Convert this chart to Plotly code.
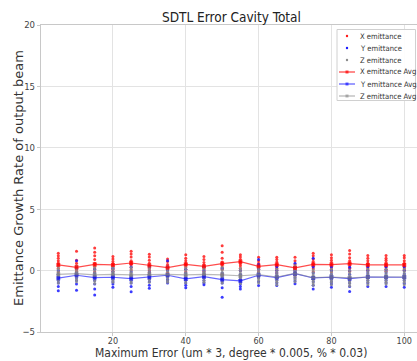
import plotly.graph_objects as go

x_vals = [5, 10, 15, 20, 25, 30, 35, 40, 45, 50, 55, 60, 65, 70, 75, 80, 85, 90, 95, 100]

x_emit = [
    [1.41, 1.2, 1.0, 0.8, 0.62, 0.46, 0.2, -0.1],
    [1.57, 0.85, 0.6, 0.4, 0.3, 0.1, -0.05, -0.3],
    [1.84, 1.5, 1.2, 0.9, 0.6, 0.35, 0.15, -0.1],
    [1.14, 0.95, 0.75, 0.55, 0.4, 0.25, 0.1, -0.05],
    [1.57, 1.35, 1.1, 0.8, 0.6, 0.45, 0.25, 0.05],
    [1.33, 1.1, 0.85, 0.6, 0.4, 0.2, 0.0, -0.15],
    [0.95, 0.75, 0.5, 0.35, 0.2, 0.05, -0.2, -0.35],
    [1.3, 1.0, 0.8, 0.6, 0.45, 0.3, 0.1, -0.1],
    [1.14, 0.9, 0.65, 0.45, 0.3, 0.15, -0.05, -0.3],
    [2.03, 1.5, 1.0, 0.7, 0.5, 0.3, 0.1, -0.3],
    [1.3, 1.1, 0.9, 0.7, 0.55, 0.4, 0.2, 0.0],
    [1.08, 0.8, 0.6, 0.4, 0.25, 0.1, -0.1, -0.5],
    [1.08, 0.9, 0.7, 0.5, 0.35, 0.2, 0.0, -0.2],
    [1.08, 0.8, 0.5, 0.3, 0.15, 0.0, -0.2, -0.4],
    [1.41, 1.2, 0.95, 0.75, 0.55, 0.35, 0.15, -0.1],
    [1.3, 1.05, 0.85, 0.65, 0.45, 0.3, 0.1, -0.1],
    [1.63, 1.35, 1.05, 0.8, 0.6, 0.4, 0.2, -0.05],
    [1.22, 1.0, 0.8, 0.6, 0.45, 0.3, 0.15, 0.0],
    [1.22, 1.0, 0.85, 0.65, 0.45, 0.3, 0.1, -0.05],
    [1.22, 1.05, 0.8, 0.6, 0.45, 0.3, 0.15, 0.0],
]

y_emit = [
    [0.0, -0.3, -0.5, -0.6, -0.8, -1.0, -1.3, -1.65],
    [0.8, 0.2, -0.2, -0.4, -0.6, -0.8, -1.1, -1.6],
    [0.1, -0.2, -0.4, -0.6, -0.8, -1.1, -1.5, -1.98],
    [0.2, -0.1, -0.3, -0.5, -0.7, -0.9, -1.1, -1.35],
    [0.3, -0.1, -0.4, -0.6, -0.8, -1.0, -1.3, -1.73],
    [0.3, -0.1, -0.3, -0.5, -0.7, -0.9, -1.2, -1.43],
    [0.81, 0.3, 0.0, -0.3, -0.5, -0.7, -0.85, -1.0],
    [0.1, -0.2, -0.4, -0.6, -0.8, -1.0, -1.2, -1.4],
    [0.3, 0.0, -0.2, -0.4, -0.6, -0.8, -1.0, -1.16],
    [0.2, -0.2, -0.4, -0.6, -0.8, -1.0, -1.4, -2.17],
    [0.0, -0.3, -0.5, -0.7, -0.9, -1.1, -1.3, -1.49],
    [0.9, 0.5, 0.1, -0.2, -0.4, -0.6, -0.9, -1.22],
    [0.3, 0.0, -0.2, -0.4, -0.6, -0.8, -1.0, -1.22],
    [0.6, 0.3, 0.0, -0.2, -0.4, -0.6, -0.85, -1.08],
    [1.0, 0.3, -0.2, -0.5, -0.7, -0.9, -1.2, -1.49],
    [0.3, 0.0, -0.3, -0.5, -0.7, -0.9, -1.1, -1.35],
    [0.27, 0.0, -0.3, -0.6, -0.8, -1.0, -1.3, -1.71],
    [0.3, 0.0, -0.2, -0.4, -0.6, -0.8, -1.0, -1.3],
    [0.3, 0.05, -0.2, -0.45, -0.6, -0.8, -1.0, -1.3],
    [0.3, 0.0, -0.25, -0.4, -0.6, -0.8, -1.05, -1.35],
]

z_emit = [
    [0.3, 0.1, -0.1, -0.3, -0.4, -0.6, -0.8, -1.0],
    [0.35, 0.15, -0.05, -0.25, -0.4, -0.55, -0.75, -0.9],
    [0.25, 0.05, -0.15, -0.35, -0.5, -0.65, -0.85, -1.05],
    [0.3, 0.1, -0.1, -0.3, -0.45, -0.6, -0.8, -0.95],
    [0.25, 0.05, -0.15, -0.35, -0.5, -0.65, -0.85, -1.0],
    [0.3, 0.1, -0.1, -0.3, -0.45, -0.6, -0.75, -0.95],
    [0.3, 0.15, -0.05, -0.3, -0.45, -0.6, -0.8, -0.95],
    [0.25, 0.05, -0.15, -0.35, -0.5, -0.65, -0.8, -1.0],
    [0.3, 0.1, -0.1, -0.3, -0.45, -0.6, -0.8, -0.95],
    [0.25, 0.05, -0.15, -0.35, -0.5, -0.65, -0.85, -1.0],
    [0.2, 0.0, -0.2, -0.4, -0.55, -0.7, -0.9, -1.05],
    [0.3, 0.1, -0.1, -0.35, -0.5, -0.65, -0.8, -1.0],
    [0.1, -0.1, -0.3, -0.5, -0.65, -0.8, -0.95, -1.15],
    [0.4, 0.2, 0.0, -0.25, -0.4, -0.55, -0.7, -0.9],
    [0.05, -0.15, -0.35, -0.55, -0.7, -0.85, -1.0, -1.2],
    [0.1, -0.1, -0.3, -0.5, -0.65, -0.8, -0.95, -1.15],
    [0.0, -0.2, -0.4, -0.6, -0.75, -0.9, -1.05, -1.25],
    [0.1, -0.1, -0.3, -0.5, -0.65, -0.8, -0.95, -1.15],
    [0.1, -0.1, -0.3, -0.5, -0.65, -0.8, -0.95, -1.1],
    [0.1, -0.1, -0.3, -0.5, -0.65, -0.8, -0.95, -1.15],
]

x_avg = [0.46, 0.27, 0.51, 0.46, 0.62, 0.41, 0.24, 0.51, 0.35, 0.57,
         0.73, 0.35, 0.49, 0.22, 0.51, 0.49, 0.57, 0.46, 0.46, 0.46]
y_avg = [-0.62, -0.38, -0.57, -0.54, -0.65, -0.54, -0.38, -0.68, -0.49, -0.73,
         -0.84, -0.38, -0.57, -0.24, -0.60, -0.54, -0.65, -0.52, -0.54, -0.54]
z_avg = [-0.30, -0.25, -0.35, -0.30, -0.35, -0.30, -0.30, -0.35, -0.30, -0.35,
         -0.42, -0.32, -0.52, -0.22, -0.58, -0.52, -0.60, -0.52, -0.52, -0.52]

x_ticks = [20, 40, 60, 80, 100]
y_ticks = [-5, 0, 5, 10, 15, 20]

title_text = "SDTL Error Cavity Total"
x_label = "Maximum Error (um * 3, degree * 0.005, % * 0.03)"
y_label = "Emittance Growth Rate of output beam"

legend_names = ["X emittance", "Y emittance", "Z emittance",
                "X emittance Avg", "Y emittance Avg", "Z emittance Avg"]

COND = "DejaVu Sans Condensed, DejaVu Sans, sans-serif"
REG = "DejaVu Sans, sans-serif"

RED, BLUE, GRAY = "#ff1a1a", "#1a1aff", "#8c8c8c"
RED_L, BLUE_L, GRAY_L = "rgba(255,0,0,0.7)", "rgba(0,0,255,0.6)", "rgba(128,128,128,0.55)"

W, H = 417, 361
L, R, T, B = 41, 0, 25, 29


def px(xp):
    return (xp - L) / (W - L - R)


def py(yp):
    return (H - B - yp) / (H - T - B)


def flat(groups):
    xs, ys = [], []
    for xv, g in zip(x_vals, groups):
        for v in g:
            xs.append(xv)
            ys.append(v)
    return xs, ys


fig = go.Figure()

scatter_specs = [(legend_names[0], x_emit, RED),
                 (legend_names[1], y_emit, BLUE),
                 (legend_names[2], z_emit, GRAY)]
for name, groups, col in scatter_specs:
    xs, ys = flat(groups)
    fig.add_trace(go.Scatter(x=xs, y=ys, mode="markers", name=name,
                             marker=dict(color=col, size=3, symbol="circle",
                                         opacity=0.85, line=dict(width=0))))

avg_specs = [(legend_names[3], x_avg, RED_L),
             (legend_names[4], y_avg, BLUE_L),
             (legend_names[5], z_avg, GRAY_L)]
for name, vals, col in avg_specs:
    fig.add_trace(go.Scatter(x=x_vals, y=vals, mode="lines+markers", name=name,
                             line=dict(color=col, width=1.2),
                             marker=dict(color=col, size=4, symbol="square")))

# Compact legend box in the upper right (matplotlib style)
shapes = [dict(type="rect", xref="paper", yref="paper",
               x0=px(337), x1=px(415.5), y0=py(100.5), y1=py(29.5),
               line=dict(color="#d0d0d0", width=1), fillcolor="rgba(255,255,255,0.92)",
               layer="above")]
annotations = []
legend_cols = [RED, BLUE, GRAY, RED_L, BLUE_L, GRAY_L]
for i, (name, col) in enumerate(zip(legend_names, legend_cols)):
    yc = 36 + 12 * i
    if i >= 3:
        shapes.append(dict(type="line", xref="paper", yref="paper",
                           x0=px(339), x1=px(355), y0=py(yc), y1=py(yc),
                           line=dict(color=col, width=1.3), layer="above"))
        shapes.append(dict(type="rect", xref="paper", yref="paper",
                           x0=px(345.5), x1=px(348.5), y0=py(yc + 1.5), y1=py(yc - 1.5),
                           line=dict(width=0), fillcolor=col, layer="above"))
    else:
        shapes.append(dict(type="circle", xref="paper", yref="paper",
                           x0=px(345.8), x1=px(348.2), y0=py(yc + 1.2), y1=py(yc - 1.2),
                           line=dict(width=0), fillcolor=col, layer="above"))
    annotations.append(dict(text=name, xref="paper", yref="paper",
                            x=px(358), y=py(yc), xanchor="left", yanchor="middle",
                            showarrow=False,
                            font=dict(family=COND, size=7.6, color="#333333")))

annotations.append(dict(text=title_text, xref="paper", yref="paper",
                        x=px(231.5), y=py(17.5), xanchor="center", yanchor="middle",
                        showarrow=False,
                        font=dict(family=COND, size=13.5, color="#222222")))
annotations.append(dict(text=x_label, xref="paper", yref="paper",
                        x=px(231), y=py(352.5), xanchor="center", yanchor="middle",
                        showarrow=False,
                        font=dict(family=COND, size=12, color="#333333")))
annotations.append(dict(text=y_label, xref="paper", yref="paper",
                        x=px(18.5), y=py(178.5), xanchor="center", yanchor="middle",
                        textangle=-90, showarrow=False,
                        font=dict(family=REG, size=13, color="#333333")))

fig.update_layout(
    width=W, height=H,
    margin=dict(l=L, r=R, t=T, b=B),
    paper_bgcolor="white", plot_bgcolor="white",
    font=dict(family=COND, size=9, color="#444444"),
    showlegend=False,
    shapes=shapes,
    annotations=annotations,
)

fig.update_xaxes(range=[0.25, 103.5], tickvals=x_ticks,
                 showgrid=True, gridcolor="#e3e3e3", gridwidth=1,
                 showline=True, linecolor="#c8c8c8", linewidth=1.2, mirror=True,
                 ticks="outside", ticklen=3, tickcolor="#c8c8c8",
                 ticklabelstandoff=-3,
                 tickfont=dict(family=COND, size=9, color="#444444"),
                 zeroline=False)
fig.update_yaxes(range=[-5, 20], tickvals=y_ticks,
                 showgrid=True, gridcolor="#e3e3e3", gridwidth=1,
                 showline=True, linecolor="#c8c8c8", linewidth=1.2, mirror=True,
                 ticks="outside", ticklen=3, tickcolor="#c8c8c8",
                 tickfont=dict(family=COND, size=9.5, color="#444444"),
                 zeroline=False)

fig.write_html("out.html")
